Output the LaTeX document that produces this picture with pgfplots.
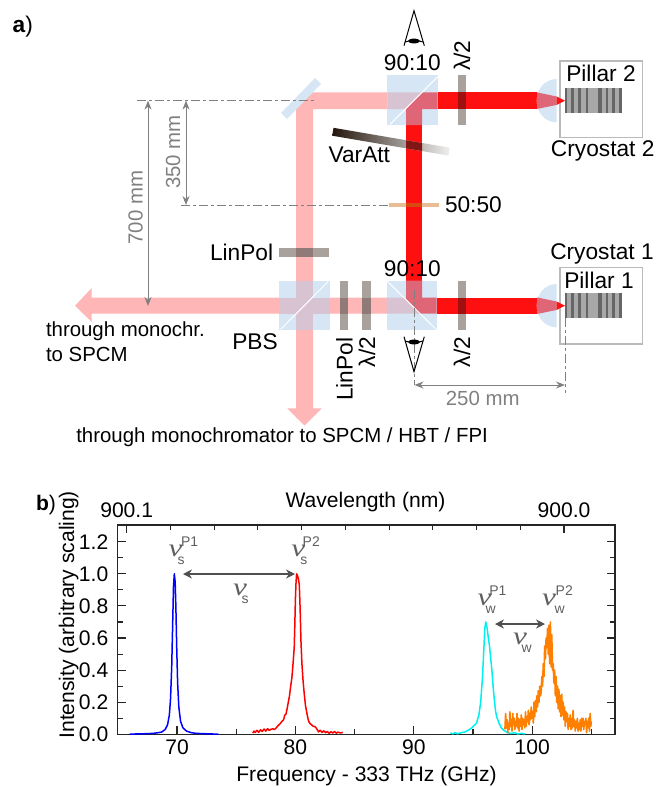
\documentclass[border=0pt]{standalone}
\usepackage{fontspec}
\usepackage{pgfplots}
\pgfplotsset{compat=1.18}
\usetikzlibrary{arrows.meta}
\setmainfont{Liberation Sans}
\newfontfamily\nufont{Liberation Serif}
\newcommand\fa{\fontsize{22.7}{26}\selectfont}
\newcommand\fb{\fontsize{20.4}{24}\selectfont}
\newcommand\fc{\fontsize{21.1}{24}\selectfont}
\definecolor{pnk}{HTML}{FFB6B6}
\definecolor{rd}{HTML}{FF1010}
\definecolor{cub}{HTML}{D6E6F5}
\definecolor{cubp}{HTML}{D8C3D3}
\definecolor{cubr}{HTML}{DE6676}
\definecolor{plt}{HTML}{A8A19C}
\definecolor{pltp}{HTML}{8F7A78}
\definecolor{pltr}{HTML}{A01010}
\definecolor{dim}{HTML}{808080}
\definecolor{ann}{HTML}{505050}
\definecolor{nug}{HTML}{606060}
\definecolor{fifty}{HTML}{E8BC94}
\definecolor{fiftyr}{HTML}{D94A12}
\definecolor{attd}{HTML}{24160C}
\definecolor{attr}{HTML}{821616}
\definecolor{org}{HTML}{FF8000}
\definecolor{cya}{HTML}{00F0F0}
% x, y, subscript, superscript, offset of the subscript, offset of the superscript
\newcommand\NUL[6]{\node[anchor=base west,text=nug] at (#1,#2) {\fontsize{14}{14}\selectfont\rlap{\scalebox{1.25}[1]{\fontsize{25}{25}\nufont\itshape ν}}\rlap{\kern#5pt\raisebox{-8pt}{#3}}\kern#6pt\raisebox{10pt}{#4}};}
\newcommand\PILLAR[1]{%
  \fill[black!34] (565,#1-12.5) rectangle (622,#1+12.5);
  \foreach \a/\b in {565/567,571/574,578.3/581,585.7/588.3,598.3/601.7,605.7/608.3,612.3/615,619/621.7}
    {\fill[black!60] (\a,#1-12.5) rectangle (\b,#1+12.5);}
}
\newcommand\LENS[1]{%
  \fill[cub] (556.7,#1-21.7) .. controls (545,#1-21.7) and (536.7,#1-12) .. (536.7,#1)
     .. controls (536.7,#1+12) and (545,#1+21.7) .. (556.7,#1+21.7) -- cycle;
  \fill[cubr] (537,#1-8.3) -- (556.7,#1-4.2) -- (556.7,#1+4.2) -- (537,#1+8.3) -- cycle;
  \fill[rd] (556.7,#1-4.2) -- (565,#1) -- (556.7,#1+4.2) -- cycle;
}
\begin{document}
\begin{tikzpicture}[x=1pt,y=-1pt]
\path[use as bounding box] (0,0) rectangle (668,787);
\begin{scope}[every node/.style={inner sep=0pt,outer sep=0pt}]
% pink beams
\fill[pnk] (296,425) -- (296,102) -- (305.7,92.3) -- (400,92.3) -- (400,109) -- (313,109) -- (313,408.3) -- (321.7,408.3) -- (304.5,425.7) -- (287.3,408.3) -- (296,408.3) -- cycle;
\fill[pnk] (75,305.7) -- (91.7,288) -- (91.7,297.7) -- (400,297.7) -- (400,313.7) -- (91.7,313.7) -- (91.7,322) -- cycle;
% red beams
\fill[rd] (406,120) rectangle (422,290);
\fill[rd] (430,92.3) rectangle (537,109);
\fill[rd] (430,297.7) rectangle (537,313.7);
% cubes
\fill[cub] (387.3,75) rectangle (437.7,125);
\fill[cubp] (387.3,92.3) -- (422,92.3) -- (405.3,109) -- (387.3,109) -- cycle;
\fill[cubr] (437.7,92.3) -- (422,92.3) -- (406,108.3) -- (406,125) -- (422,125) -- (422,109) -- (437.7,109) -- cycle;
\draw[white,line width=1pt] (390,124.3) -- (437.7,76.7);
\fill[cub] (386.7,280.7) rectangle (436.7,330);
\fill[cubp] (386.7,297.7) -- (406,297.7) -- (406,300) -- (419.7,313.7) -- (386.7,313.7) -- cycle;
\fill[cubr] (406,280.7) -- (422,280.7) -- (422,297.7) -- (436.7,297.7) -- (436.7,313.7) -- (419.7,313.7) -- (406,300) -- cycle;
\draw[white,line width=1pt] (387,281) -- (436.5,329.7);
\fill[cub] (279.3,280.7) rectangle (330,330);
\fill[cubp] (296,280.7) rectangle (313,330);
\fill[cubp] (279.3,297.7) rectangle (330,313.7);
\draw[white,line width=1pt] (280.7,329.3) -- (328,281.7);
% mirror
\fill[cub] (315,78) -- (321,84) -- (287,119) -- (281,113) -- cycle;
% plates
\fill[plt] (458,75) rectangle (466,125);
\fill[pltr] (458,92.3) rectangle (466,109);
\fill[plt] (458,280.7) rectangle (466,330);
\fill[pltr] (458,297.7) rectangle (466,313.7);
\fill[plt] (340,280.7) rectangle (348.3,330);
\fill[pltp] (340,297.7) rectangle (348.3,313.7);
\fill[plt] (362.3,280.7) rectangle (370.7,330);
\fill[pltp] (362.3,297.7) rectangle (370.7,313.7);
\fill[plt] (279.3,248.3) rectangle (329.3,256.7);
\fill[pltp] (296,248.3) rectangle (313,256.7);
% 50:50
\fill[fifty] (389,203.3) rectangle (438.7,207.3);
\fill[fiftyr] (406,203.3) rectangle (422,207.3);
% variable attenuator
\begin{scope}[shift={(391,141.7)},rotate=-9.7]
\shade[left color=attd,right color=black!6] (-59,-4) rectangle (59,4);
\end{scope}
\fill[attr] (406,140.3) -- (422,143) -- (422,151) -- (406,148.3) -- cycle;
% cryostats
\draw[black!27,line width=1.6pt] (560,60.7) rectangle (642.3,137.3);
\draw[black!27,line width=1.6pt] (560,267.3) rectangle (642.3,343.7);
\LENS{100.7}
\LENS{305.7}
\PILLAR{100.7}
\PILLAR{305.5}
% dimension lines
\begin{scope}[dim,line width=1pt]
\draw[dash pattern=on 9pt off 3pt on 3pt off 3pt] (137,100.3) -- (315,100.3);
\draw[dash pattern=on 9pt off 3pt on 3pt off 3pt] (181,205.3) -- (388,205.3);
\draw[dash pattern=on 9pt off 3pt on 3pt off 3pt] (414,290) -- (414,385);
\draw[dash pattern=on 9pt off 3pt on 3pt off 3pt] (565,318) -- (565,393.3);
\draw[{Stealth[length=9pt,width=7pt]}-{Stealth[length=9pt,width=7pt]}] (148,100.6) -- (148,306);
\draw[{Stealth[length=9pt,width=7pt]}-{Stealth[length=9pt,width=7pt]}] (186,100.6) -- (186,205);
\draw[{Stealth[length=9pt,width=7pt]}-{Stealth[length=9pt,width=7pt]}] (414.5,385) -- (565,385);
\end{scope}
\node[rotate=90,anchor=base,text=dim] at (180,152) {\fb 350 mm};
\node[rotate=90,anchor=base,text=dim] at (142.7,207.5) {\fb 700 mm};
\node[anchor=base,text=dim] at (482.7,405.7) {\fb 250 mm};
% eyes
\draw[black,line width=1pt] (404,45.7) -- (414,10.7) -- (424.3,45.7);
\draw[black,line width=1pt] (405,42) .. controls (410,40) and (418,40) .. (423,42);
\fill[black] (414,41) ellipse (6 and 2.4);
\draw[black,line width=1pt] (404,336.7) -- (414,371.7) -- (424.3,336.7);
\draw[black,line width=1pt] (405,341) .. controls (410,343) and (418,343) .. (423,341);
\fill[black] (414,342) ellipse (6 and 2.4);
% text
\node[anchor=base west] at (12.7,32) {\fa\textbf{a})};
\node[anchor=base west] at (36,510.7) {\fc\textbf{b})};
\node[anchor=base] at (412.3,70) {\fa 90:10};
\node[anchor=base] at (412.3,276.7) {\fa 90:10};
\node[anchor=base west] at (445,212.7) {\fa 50:50};
\node[anchor=base east] at (390,162.3) {\fa VarAtt};
\node[anchor=base] at (602.7,156) {\fa Cryostat 2};
\node[anchor=base] at (602,259.3) {\fa Cryostat 1};
\node[anchor=base] at (601,81.7) {\fa Pillar 2};
\node[anchor=base] at (599,288.3) {\fa Pillar 1};
\node[rotate=90,anchor=base west] at (470,70.7) {\fa λ/2};
\node[rotate=90,anchor=base west] at (470,367.3) {\fa λ/2};
\node[rotate=90,anchor=base west] at (375,367.3) {\fa λ/2};
\node[rotate=90,anchor=base west] at (352.7,400.7) {\fa LinPol};
\node[anchor=base west] at (210,260.7) {\fa LinPol};
\node[anchor=base west] at (232.3,349.3) {\fa PBS};
\node[anchor=base west] at (46,336.7) {\fb through monochr.};
\node[anchor=base west] at (46,361.7) {\fb to SPCM};
\node[anchor=base west] at (76.3,442.3) {\fb through monochromator to SPCM / HBT / FPI};
\end{scope}
% chart
\begin{axis}[
  at={(117.5pt,-734.3pt)},anchor=south west,scale only axis,
  width=497.5pt,height=209.3pt,
  xmin=64.97,xmax=107.0,ymin=0,ymax=1.304,
  axis line style={line width=1.2pt,color=black!85},
  tick style={line width=1.1pt,color=black!85},
  major tick length=8pt,minor tick length=5pt,
  tick align=inside,
  xtick pos=bottom,
  xtick={70,80,90,100},minor xtick={75,85,95,105},
  ytick={0,0.2,0.4,0.6,0.8,1.0,1.2},minor ytick={0.1,0.3,0.5,0.7,0.9,1.1},
  ytick pos=both,yticklabel pos=left,
  yticklabel style={/pgf/number format/fixed,/pgf/number format/precision=1,/pgf/number format/fixed zerofill,/pgf/number format/assume math mode=true,font=\fc,inner sep=0pt,xshift=-9pt},
  xticklabel style={/pgf/number format/assume math mode=true,font=\fc,inner sep=0pt,yshift=-5pt},
  xlabel={Frequency - 333 THz (GHz)},
  xlabel style={font=\fc,inner sep=0pt,anchor=base,at={(axis description cs:0.5005,-0.2265)}},
  ylabel={Intensity (arbitrary scaling)},
  ylabel style={font=\fc,inner sep=0pt,anchor=base,at={(axis description cs:-0.0874,0.571)}},
  every axis plot/.append style={no markers,line join=round},
]
\addplot[blue,line width=1.5pt] coordinates {
(66.0,0.001)(66.5,0.002)(67,0.003)(67.5,0.004)(68,0.006)(68.4,0.01)(68.7,0.014)(69,0.03)(69.2,0.06)(69.35,0.12)(69.45,0.22)(69.55,0.42)(69.62,0.65)(69.7,0.92)(69.77,1)(69.84,0.95)(69.9,0.8)(69.97,0.55)(70.05,0.32)(70.15,0.17)(70.3,0.08)(70.5,0.04)(70.8,0.02)(71.2,0.01)(71.6,0.006)(72.2,0.004)(73,0.002)(73.5,0.001)};
\addplot[red,line width=1.5pt] coordinates {
(76.4,0.008)(76.5,0.02)(76.6,0.012)(76.75,0.025)(76.9,0.012)(77.05,0.028)(77.2,0.018)(77.35,0.033)(77.5,0.02)(77.65,0.035)(77.8,0.025)(77.95,0.032)(78.1,0.034)(78.25,0.03)(78.4,0.042)(78.55,0.055)(78.7,0.065)(78.85,0.08)(79.0,0.09)(79.1,0.12)(79.2,0.125)(79.3,0.16)(79.4,0.2)(79.5,0.24)(79.6,0.3)(79.7,0.35)(79.8,0.44)(79.9,0.54)(79.95,0.68)(80.0,0.84)(80.05,0.94)(80.1,1)(80.17,0.99)(80.25,0.97)(80.33,0.93)(80.4,0.78)(80.47,0.58)(80.55,0.44)(80.65,0.33)(80.75,0.25)(80.85,0.18)(81,0.12)(81.1,0.085)(81.2,0.07)(81.35,0.06)(81.5,0.05)(81.65,0.048)(81.8,0.035)(81.95,0.015)(82.1,0.025)(82.25,0.012)(82.4,0.022)(82.55,0.01)(82.7,0.018)(82.85,0.006)(83,0.016)(83.15,0.008)(83.3,0.018)(83.45,0.007)(83.6,0.014)(83.8,0.008)(84,0.012)};
\addplot[cya,line width=1.5pt] coordinates {
(93.1,0.008)(93.3,0.003)(93.5,0.01)(93.7,0.003)(94,0.01)(94.3,0.014)(94.6,0.025)(94.9,0.04)(95.1,0.055)(95.3,0.07)(95.5,0.12)(95.65,0.2)(95.8,0.35)(95.9,0.5)(96,0.66)(96.08,0.7)(96.2,0.66)(96.3,0.6)(96.4,0.55)(96.5,0.47)(96.6,0.4)(96.7,0.3)(96.8,0.22)(96.9,0.15)(97,0.11)(97.2,0.07)(97.4,0.04)(97.6,0.025)(97.9,0.012)(98.2,0.005)(98.5,0.01)(98.8,0.002)(99.1,0.006)(99.4,0.002)};
\addplot[org,line width=1.6pt] coordinates {
(97.7,0.03)(97.76,0.13)(97.82,0.04)(97.88,0.09)(97.94,0.01)(98,0.07)(98.06,0.03)(98.12,0.14)(98.18,0.05)(98.24,0.09)(98.3,0.02)(98.36,0.13)(98.42,0.06)(98.48,0.1)(98.54,0.03)(98.6,0.08)(98.66,0.05)(98.72,0.13)(98.78,0.04)(98.84,0.1)(98.9,0.02)(98.96,0.09)(99.02,0.05)(99.08,0.12)(99.14,0.03)(99.2,0.1)(99.26,0.06)(99.32,0.09)(99.38,0.04)(99.44,0.14)(99.5,0.05)(99.56,0.11)(99.62,0.08)(99.68,0.15)(99.74,0.06)(99.8,0.13)(99.86,0.09)(99.92,0.17)(99.98,0.1)(100.04,0.14)(100.1,0.07)(100.16,0.2)(100.22,0.11)(100.28,0.21)(100.34,0.14)(100.4,0.24)(100.46,0.17)(100.52,0.27)(100.58,0.2)(100.64,0.3)(100.7,0.24)(100.76,0.26)(100.82,0.36)(100.88,0.3)(100.94,0.44)(101,0.36)(101.06,0.55)(101.12,0.47)(101.18,0.6)(101.24,0.54)(101.3,0.66)(101.36,0.5)(101.42,0.68)(101.48,0.44)(101.54,0.7)(101.6,0.42)(101.66,0.62)(101.72,0.4)(101.78,0.44)(101.84,0.32)(101.9,0.4)(101.96,0.24)(102.02,0.36)(102.08,0.2)(102.14,0.3)(102.2,0.16)(102.26,0.28)(102.32,0.14)(102.38,0.24)(102.44,0.11)(102.5,0.25)(102.56,0.12)(102.62,0.2)(102.68,0.09)(102.74,0.17)(102.8,0.05)(102.86,0.14)(102.92,0.08)(102.98,0.13)(103.04,0.03)(103.1,0.1)(103.16,0.05)(103.22,0.12)(103.28,0.03)(103.34,0.1)(103.4,0.04)(103.46,0.15)(103.52,0.05)(103.58,0.09)(103.64,0.02)(103.7,0.08)(103.76,0.04)(103.82,0.1)(103.88,0.02)(103.94,0.07)(104,0.03)(104.06,0.09)(104.12,0.02)(104.18,0.1)(104.24,0.05)(104.3,0.1)(104.36,0.03)(104.42,0.08)(104.48,0.06)(104.54,0.1)(104.6,0.01)(104.66,0.08)(104.72,0.04)(104.78,0.1)(104.84,0.02)(104.9,0.13)(104.96,0.05)(105,0.08)};
\end{axis}
\begin{axis}[
  at={(117.5pt,-734.3pt)},anchor=south west,scale only axis,
  width=497.5pt,height=209.3pt,
  x dir=reverse,xmin=899.98834,xmax=900.1021,ymin=0,ymax=1,
  axis x line=top,hide y axis,axis line style={-,line width=1.2pt,color=black!85},
  tick style={line width=1.1pt,color=black!85},
  major tick length=8pt,minor tick length=5pt,
  tick align=inside,scaled x ticks=false,
  xtick={900.0,900.1},xticklabels={900.0,900.1},minor x tick num=9,
  xticklabel style={font=\fc,inner sep=0pt,yshift=7pt},
  xlabel={Wavelength (nm)},
  xlabel style={font=\fc,inner sep=0pt,anchor=base,at={(axis description cs:0.4985,1.083)}},
]
\addplot[draw=none] coordinates {(900.05,0.5)};
\end{axis}
% annotations of the spectrum
\begin{scope}[every node/.style={inner sep=0pt,outer sep=0pt}]
\draw[ann,line width=1.3pt,{Stealth[length=9pt,width=9pt]}-{Stealth[length=9pt,width=9pt]}] (183,574) -- (295,574);
\draw[ann,line width=1.3pt,{Stealth[length=9pt,width=9pt]}-{Stealth[length=9pt,width=9pt]}] (495,624) -- (545,624);
\NUL{168.5}{556}{s}{P1}{9}{12.5}
\NUL{291.3}{556}{s}{P2}{9}{11.4}
\NUL{232.7}{595}{s}{}{8.5}{0}
\NUL{477.7}{605}{w}{P1}{8}{11.6}
\NUL{542}{605}{w}{P2}{12.5}{13.7}
\NUL{512.7}{644.3}{w}{}{8.5}{0}
\end{scope}
\end{tikzpicture}
\end{document}
